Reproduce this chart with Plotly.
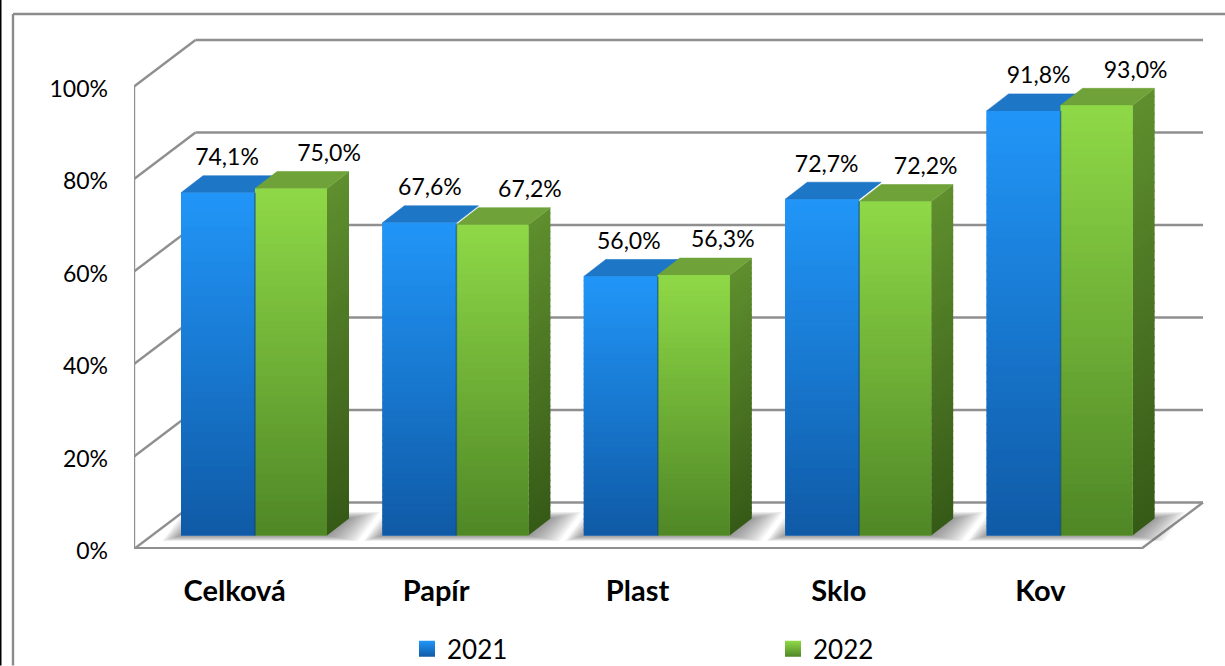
import plotly.graph_objects as go

# ---------- data ----------
categories = ["Celková", "Papír", "Plast", "Sklo", "Kov"]
series_names = ["2021", "2022"]
values_2021 = [74.1, 67.6, 56.0, 72.7, 91.8]
values_2022 = [75.0, 67.2, 56.3, 72.2, 93.0]
y_ticks = [0, 20, 40, 60, 80, 100]

# ---------- label nudges (px from bar centre) ----------
label_dx_2021 = [9, 10.5, 8, 4.5, 15]
label_dx_2022 = [38, 37.5, 29, 30.5, 39]

# ---------- geometry of the pseudo-3D scene (px) ----------
W, H = 1225, 666
PLOT_L, PLOT_R, PLOT_T, PLOT_B = 134, 1225, 20, 549.5
CAT_W = 201.4
PX_PER_UNIT = 4.63
BAR_BASE = 536
WALL_DX, WALL_DY = 61.5, 46.5
WALL_RIGHT = 1203
DEPTH_DX, DEPTH_DY = 22, 17
FONT = "Lato"
GRID = "#8f8f8f"

def xu(dpx):      # px offset -> category units
    return dpx / CAT_W
def xp(px):       # absolute px -> x data
    return (px - PLOT_L) / CAT_W - 0.5
def yu(dpx):      # px -> value units
    return dpx / PX_PER_UNIT
def pxx(px):      # px -> paper x
    return (px - PLOT_L) / (PLOT_R - PLOT_L)
def pxy(py):      # px -> paper y
    return (PLOT_B - py) / (PLOT_B - PLOT_T)
def mix(c1, c2, t):
    a = [int(c1[i:i+2], 16) for i in (1, 3, 5)]
    b = [int(c2[i:i+2], 16) for i in (1, 3, 5)]
    return "#%02x%02x%02x" % tuple(round(p + (q - p) * t) for p, q in zip(a, b))

BLUE_OFF, BLUE_W = xu(181 - 234.7), xu(74)
GREEN_OFF, GREEN_W = xu(255 - 234.7), xu(72)

shapes = []
line = dict(color=GRID, width=2.4)

# frame
shapes.append(dict(type="line", xref="paper", yref="paper", x0=pxx(13), x1=pxx(13), y0=pxy(14), y1=pxy(666),
                   line=dict(color="#8c8c8c", width=2.4)))
shapes.append(dict(type="line", xref="paper", yref="paper", x0=pxx(13), x1=pxx(1225), y0=pxy(14), y1=pxy(14),
                   line=dict(color="#8c8c8c", width=2.4)))
shapes.append(dict(type="line", xref="paper", yref="paper", x0=pxx(0.5), x1=pxx(0.5), y0=pxy(0), y1=pxy(666),
                   line=dict(color="#000000", width=2)))

# walls & floor (axis y = front plane)
x_front, x_back, x_right = xp(PLOT_L), xp(PLOT_L + WALL_DX), xp(WALL_RIGHT)
for t in y_ticks:
    yb = t + yu(WALL_DY)
    shapes.append(dict(type="line", xref="x", yref="y", x0=x_back, x1=x_right, y0=yb, y1=yb, line=line, layer="below"))
    shapes.append(dict(type="line", xref="x", yref="y", x0=x_front, x1=x_back, y0=t, y1=yb, line=line, layer="below"))
shapes.append(dict(type="line", xref="x", yref="y", x0=x_front, x1=x_front, y0=0, y1=100, line=line, layer="below"))
shapes.append(dict(type="line", xref="x", yref="y", x0=x_front, x1=xp(1141), y0=0.15, y1=0.15, line=line, layer="below"))
shapes.append(dict(type="line", xref="x", yref="y", x0=xp(1141), x1=x_right, y0=0, y1=yu(WALL_DY), line=line, layer="below"))

# soft floor shadow: growing translucent copies of each cluster's footprint
for i in range(len(categories)):
    x0 = i + BLUE_OFF
    x1 = i + GREEN_OFF + GREEN_W
    dx, dy = xu(DEPTH_DX), yu(DEPTH_DY)
    for k in range(12):
        xl, xr = x0 - xu(1.7 * k), x1 + xu(2.8 * k)
        lo, hi = -yu(0.5 * k), dy + yu(0.6 * k)
        shapes.append(dict(type="path", xref="x", yref="y2", layer="below",
                           path=f"M{xl},{lo} L{xr},{lo} L{xr + dx},{hi} L{xl + dx},{hi} Z",
                           fillcolor="#505050", opacity=0.07, line=dict(width=0)))

# top + side faces (data driven)
N = 50
OVERLAP = 0.35
def side_path(x_edge, a, b):
    xr = x_edge + xu(DEPTH_DX)
    dy = yu(DEPTH_DY)
    return f"M{x_edge},{a} L{xr},{a + dy} L{xr},{b + dy} L{x_edge},{b} Z"

for i, (vb, vg) in enumerate(zip(values_2021, values_2022)):
    for v, off, w, col_top, col_s1, col_s2, has_side in (
        (vb, BLUE_OFF, BLUE_W, "#1e76c6", "#1a62a8", "#0c3f78", False),
        (vg, GREEN_OFF, GREEN_W, "#6fa238", "#5f8f2e", "#365a17", True),
    ):
        xl, xr = i + off, i + off + w
        if has_side:
            for s in range(N):
                a, b = v * s / N, v * (s + 1) / N
                c = mix(col_s2, col_s1, (s + 0.5) / N)
                shapes.append(dict(type="path", xref="x", yref="y2", layer="below",
                                   path=side_path(xr, a, min(v, b + OVERLAP)),
                                   fillcolor=c, line=dict(width=0)))
        dx, dy = xu(DEPTH_DX), yu(DEPTH_DY)
        shapes.append(dict(type="path", xref="x", yref="y2", layer="below",
                           path=f"M{xl},{v} L{xr},{v} L{xr + dx},{v + dy} L{xl + dx},{v + dy} Z",
                           fillcolor=col_top, line=dict(color=col_top, width=0.6)))

# front-face gradient over the bars
for i, (vb, vg) in enumerate(zip(values_2021, values_2022)):
    for v, off, w, c_low, c_high in (
        (vb, BLUE_OFF, BLUE_W, "#0f5aa6", "#2196f8"),
        (vg, GREEN_OFF, GREEN_W, "#4f8726", "#8fd947"),
    ):
        for s in range(N):
            a, b = v * s / N, v * (s + 1) / N
            c = mix(c_low, c_high, (s + 0.5) / N)
            shapes.append(dict(type="rect", xref="x", yref="y2", x0=i + off, x1=i + off + w, y0=a,
                               y1=min(v, b + OVERLAP), fillcolor=c, line=dict(width=0), layer="above"))
    # darker seam between the two bars of a cluster
    xs = i + GREEN_OFF
    shapes.append(dict(type="line", xref="x", yref="y2", x0=xs, x1=xs, y0=0, y1=min(vb, vg), layer="above",
                       line=dict(color="#0c3f6e", width=1.5), opacity=0.55))

fig = go.Figure()
x_idx = list(range(len(categories)))
fig.add_trace(go.Bar(x=x_idx, y=values_2021, name=series_names[0], offset=BLUE_OFF, width=BLUE_W,
                     marker=dict(color="#1a78d0", line=dict(width=0)), yaxis="y2", showlegend=False))
fig.add_trace(go.Bar(x=x_idx, y=values_2022, name=series_names[1], offset=GREEN_OFF, width=GREEN_W,
                     marker=dict(color="#6fb038", line=dict(width=0)), yaxis="y2", showlegend=False))

def fmt(v):
    return f"{v:.1f}".replace(".", ",") + "%"

for vals, off, w, dxs in ((values_2021, BLUE_OFF, BLUE_W, label_dx_2021),
                          (values_2022, GREEN_OFF, GREEN_W, label_dx_2022)):
    fig.add_trace(go.Scatter(
        x=[i + off + w / 2 + xu(d) for i, d in zip(x_idx, dxs)],
        y=[v + yu(33.5) for v in vals],
        text=[fmt(v) for v in vals], mode="text", textposition="middle center",
        textfont=dict(family=FONT, size=23, color="#000000"),
        yaxis="y2", showlegend=False, hoverinfo="skip", cliponaxis=False))

# legend entries
for name, top, low in ((series_names[0], "#2196f8", "#0f5aa6"), (series_names[1], "#8fd947", "#4f8726")):
    fig.add_trace(go.Scatter(x=[None], y=[None], name=name, mode="markers",
                             marker=dict(symbol="square", size=16, color=top,
                                         gradient=dict(type="vertical", color=low))))

fig.update_layout(
    width=W, height=H, autosize=False,
    margin=dict(l=PLOT_L, r=W - PLOT_R, t=PLOT_T, b=H - PLOT_B, pad=0, autoexpand=False),
    paper_bgcolor="white", plot_bgcolor="white",
    barmode="overlay",
    font=dict(family=FONT, color="#000000", size=23),
    shapes=shapes,
    xaxis=dict(range=[-0.5, xp(PLOT_R)], tickmode="array", tickvals=x_idx, ticktext=categories,
               showgrid=False, zeroline=False, showline=False, ticks="", ticklabelstandoff=22,
               tickfont=dict(family=FONT, size=29, color="#000000", weight="bold")),
    yaxis=dict(range=[0, (PLOT_B - PLOT_T) / PX_PER_UNIT], tickmode="array", tickvals=y_ticks,
               ticktext=[f"{t}%" for t in y_ticks], showgrid=False, zeroline=False, showline=False,
               ticks="", ticklabelstandoff=25, ticklabelshift=2,
               tickfont=dict(family=FONT, size=23, color="#000000")),
    yaxis2=dict(range=[(BAR_BASE - PLOT_B) / PX_PER_UNIT, (BAR_BASE - PLOT_T) / PX_PER_UNIT],
                overlaying="y", side="left", visible=False, showgrid=False, zeroline=False),
    legend=dict(orientation="h", x=pxx(407), y=pxy(626), xanchor="left", yanchor="top",
                entrywidth=321, entrywidthmode="pixels", itemwidth=30, font=dict(family=FONT, size=26),
                bgcolor="rgba(0,0,0,0)", traceorder="normal"),
)

fig.write_html("out.html", config=dict(displayModeBar=False),
               post_script="document.body.style.margin='0';document.body.style.overflow='hidden';")
